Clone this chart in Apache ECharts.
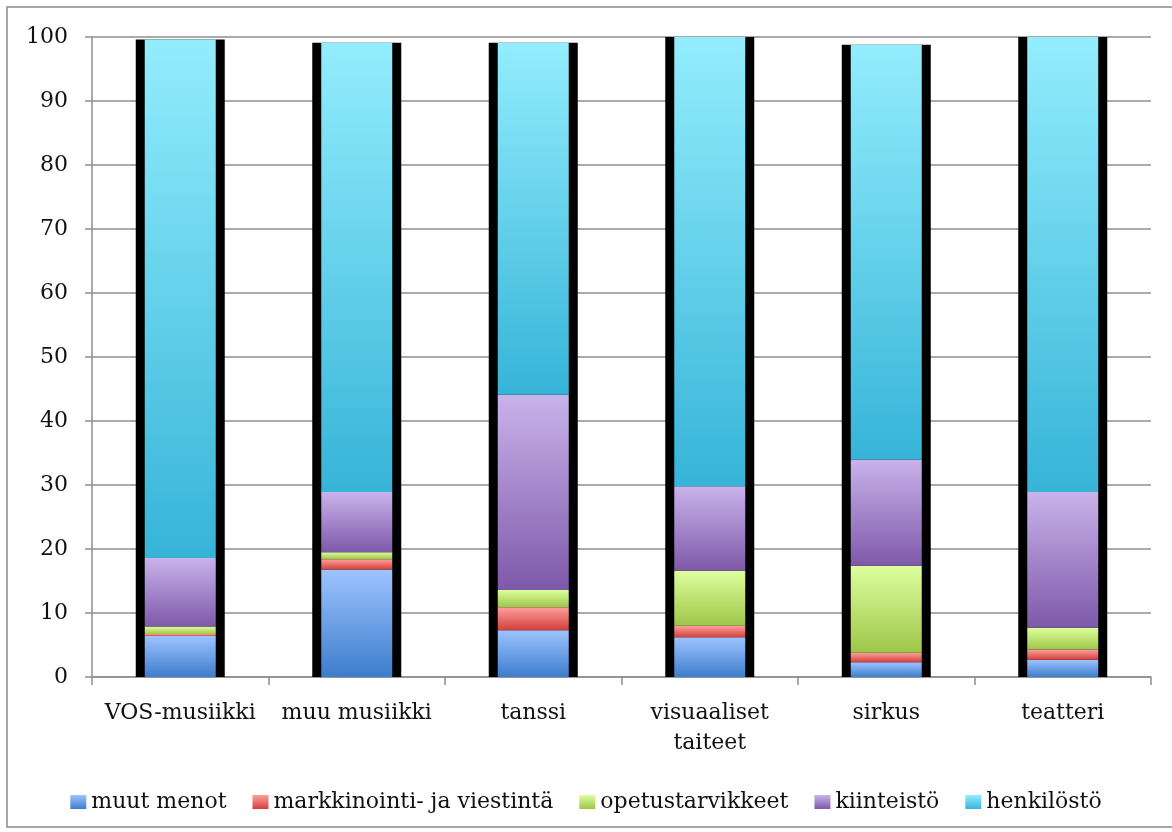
<!DOCTYPE html>
<html>
<head>
  <meta charset="UTF-8" />
  <title>Menojen jakauma</title>
  <script src="https://cdn.jsdelivr.net/npm/echarts@6/dist/echarts.min.js"></script>
  <style>
    html, body { margin: 0; padding: 0; background: #fff; }
    #myChart { width: 1172px; height: 832px; }
  </style>
</head>
<body>
  <div id="myChart"></div>
  <script>
    // data (percent)
    const categories = ['VOS-musiikki', 'muu musiikki', 'tanssi', 'visuaaliset\ntaiteet', 'sirkus', 'teatteri'];
    const muutMenot = [6.4, 16.8, 7.3, 6.2, 2.3, 2.7];
    const markkinointi = [0.3, 1.6, 3.6, 1.8, 1.5, 1.6];
    const opetustarvikkeet = [1.2, 1.1, 2.7, 8.6, 13.6, 3.4];
    const kiinteisto = [10.7, 9.4, 30.5, 13.2, 16.6, 21.2];
    const henkilosto = [81.0, 70.2, 55.0, 70.2, 64.8, 71.1];
    const yTicks = [0, 10, 20, 30, 40, 50, 60, 70, 80, 90, 100];

    const totals = categories.map((c, i) =>
      muutMenot[i] + markkinointi[i] + opetustarvikkeet[i] + kiinteisto[i] + henkilosto[i]);

    const chart = echarts.init(document.getElementById('myChart'));
    const font = 'DejaVu Serif';
    const grey = '#8e8e8e';

    function grad(top, bottom) {
      return new echarts.graphic.LinearGradient(0, 0, 0, 1, [
        { offset: 0, color: top },
        { offset: 1, color: bottom }
      ]);
    }

    const seriesDef = [
      { name: 'muut menot', data: muutMenot, top: '#9dc3ff', bottom: '#3d7dcc' },
      { name: 'markkinointi- ja viestintä', data: markkinointi, top: '#ffa09d', bottom: '#d43f3a' },
      { name: 'opetustarvikkeet', data: opetustarvikkeet, top: '#ddff9e', bottom: '#9ec649' },
      { name: 'kiinteistö', data: kiinteisto, top: '#c9b3eb', bottom: '#7e59a9' },
      { name: 'henkilöstö', data: henkilosto, top: '#93edfd', bottom: '#36b4d8' }
    ];

    // black frame behind each stack
    const series = [{
      name: 'outline',
      type: 'bar',
      xAxisIndex: 1,
      data: totals,
      barWidth: 89,
      z: 1,
      silent: true,
      itemStyle: { color: '#000' }
    }];
    seriesDef.forEach(s => {
      series.push({
        name: s.name,
        type: 'bar',
        stack: 'total',
        xAxisIndex: 0,
        data: s.data,
        barWidth: 71,
        z: 3,
        itemStyle: { color: grad(s.top, s.bottom) }
      });
    });

    chart.setOption({
      animation: false,
      backgroundColor: '#fff',
      graphic: [{
        type: 'rect',
        shape: { x: 7, y: 7, width: 1180, height: 820 },
        style: { fill: 'none', stroke: '#8a8a8a', lineWidth: 1.5 },
        z: 0
      }],
      grid: { left: 92, right: 21, top: 37, bottom: 155 },
      legend: {
        data: seriesDef.map(s => s.name),
        left: 'center',
        top: 786,
        itemWidth: 16,
        itemHeight: 14,
        itemGap: 26,
        icon: 'rect',
        textStyle: { fontFamily: font, fontSize: 22, color: '#111' }
      },
      xAxis: [{
        type: 'category',
        data: categories,
        axisLine: { lineStyle: { color: grey, width: 1.5 } },
        axisTick: { show: true, interval: 0, length: 8, lineStyle: { color: grey, width: 1.5 } },
        axisLabel: {
          interval: 0,
          margin: 21,
          fontFamily: font,
          fontSize: 22,
          lineHeight: 30,
          color: '#111'
        }
      }, {
        type: 'category',
        data: categories,
        show: false
      }],
      yAxis: {
        type: 'value',
        min: 0,
        max: 100,
        interval: 10,
        axisLine: { show: true, lineStyle: { color: grey, width: 1.5 } },
        axisTick: { show: true, length: 7, lineStyle: { color: grey, width: 1.5 } },
        splitLine: { lineStyle: { color: grey, width: 1.5 } },
        axisLabel: {
          margin: 24,
          fontFamily: font,
          fontSize: 22,
          color: '#111',
          formatter: v => yTicks.includes(v) ? String(v) : ''
        }
      },
      series: series
    });
  </script>
</body>
</html>
